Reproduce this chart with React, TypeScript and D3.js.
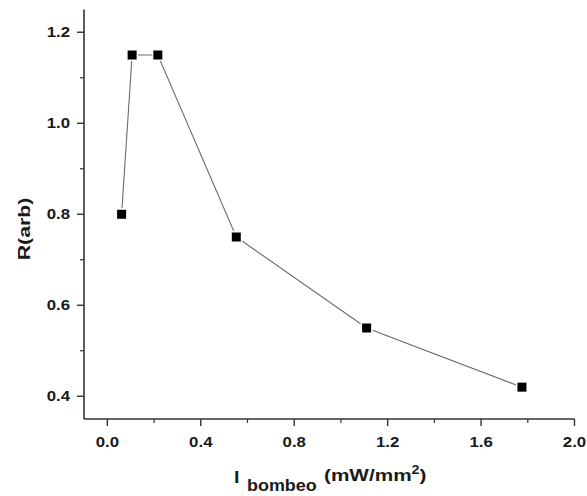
import React from "react";
import * as d3 from "d3";

// Pump intensity (mW/mm²) and measured response R (arb. units)
const pumpIntensity = [0.061, 0.106, 0.216, 0.552, 1.11, 1.775];
const response = [0.8, 1.15, 1.15, 0.75, 0.55, 0.42];

const xMajorTicks = [0.0, 0.4, 0.8, 1.2, 1.6, 2.0];
const xMinorTicks = [0.2, 0.6, 1.0, 1.4, 1.8];
const yMajorTicks = [0.4, 0.6, 0.8, 1.0, 1.2];
const yMinorTicks = [0.5, 0.7, 0.9, 1.1];

const W = 587;
const H = 496;
const SX = 1.2; // horizontal stretch of the lettering

export default function App() {
  const x = d3.scaleLinear().domain([-0.1, 2.0]).range([84, 574.5]);
  const y = d3.scaleLinear().domain([0.35, 1.25]).range([419, 9.5]);

  const points = pumpIntensity.map((v, i) => [v, response[i]] as [number, number]);
  const line = d3
    .line<[number, number]>()
    .x((d) => x(d[0]))
    .y((d) => y(d[1]));

  const axisColor = "#333";
  const textColor = "#1a1a1a";
  const font = "'Liberation Sans', Arial, sans-serif";
  const marker = 9;

  return (
    <svg
      width={W}
      height={H}
      style={{ position: "absolute", left: 0, top: 0, background: "#fff" }}
      fontFamily={font}
    >
      {/* connecting line */}
      <path d={line(points) ?? ""} fill="none" stroke="#6a6a6a" strokeWidth={1.1} />

      {/* square markers with a thin white halo */}
      {points.map((p, i) => (
        <g key={i}>
          <rect
            x={x(p[0]) - marker / 2 - 1.5}
            y={y(p[1]) - marker / 2 - 1.5}
            width={marker + 3}
            height={marker + 3}
            fill="#fff"
          />
          <rect
            x={x(p[0]) - marker / 2}
            y={y(p[1]) - marker / 2}
            width={marker}
            height={marker}
            fill="#000"
          />
        </g>
      ))}

      {/* y axis */}
      <line x1={x(-0.1)} x2={x(-0.1)} y1={y(1.25)} y2={y(0.35)} stroke={axisColor} strokeWidth={1.6} />
      {yMajorTicks.map((t) => (
        <g key={t}>
          <line x1={x(-0.1) - 7} x2={x(-0.1)} y1={y(t)} y2={y(t)} stroke={axisColor} strokeWidth={1.4} />
          <text
            transform={`translate(70,${y(t) + 5}) scale(${SX},1)`}
            textAnchor="end"
            fontSize={14}
            fontWeight="bold"
            fill={textColor}
          >
            {t.toFixed(1)}
          </text>
        </g>
      ))}
      {yMinorTicks.map((t) => (
        <line key={t} x1={x(-0.1) - 4} x2={x(-0.1)} y1={y(t)} y2={y(t)} stroke={axisColor} strokeWidth={1.2} />
      ))}

      {/* x axis */}
      <line x1={x(-0.1)} x2={x(2.0)} y1={y(0.35)} y2={y(0.35)} stroke={axisColor} strokeWidth={1.6} />
      {xMajorTicks.map((t) => (
        <g key={t}>
          <line x1={x(t)} x2={x(t)} y1={y(0.35)} y2={y(0.35) + 7} stroke={axisColor} strokeWidth={1.4} />
          <text
            transform={`translate(${x(t)},447) scale(${SX},1)`}
            textAnchor="middle"
            fontSize={14}
            fontWeight="bold"
            fill={textColor}
          >
            {t.toFixed(1)}
          </text>
        </g>
      ))}
      {xMinorTicks.map((t) => (
        <line key={t} x1={x(t)} x2={x(t)} y1={y(0.35)} y2={y(0.35) + 4} stroke={axisColor} strokeWidth={1.2} />
      ))}

      {/* axis titles */}
      <text
        transform="translate(30,229) rotate(-90) scale(1.25,1)"
        textAnchor="middle"
        fontSize={17}
        fontWeight="bold"
        fill={textColor}
      >
        R(arb)
      </text>
      <text
        transform="translate(234,483) scale(1.15,1)"
        fontSize={17}
        fontWeight="bold"
        fill={textColor}
      >
        I
      </text>
      <text
        transform="translate(247,491) scale(1.15,1)"
        fontSize={15.6}
        fontWeight="bold"
        fill={textColor}
      >
        bombeo
      </text>
      <text
        transform="translate(324,481) scale(1.2,1)"
        fontSize={17.3}
        fontWeight="bold"
        fill={textColor}
      >
        (mW/mm
        <tspan dy={-7} fontSize={12}>2</tspan>
        <tspan dy={7}>)</tspan>
      </text>
    </svg>
  );
}
